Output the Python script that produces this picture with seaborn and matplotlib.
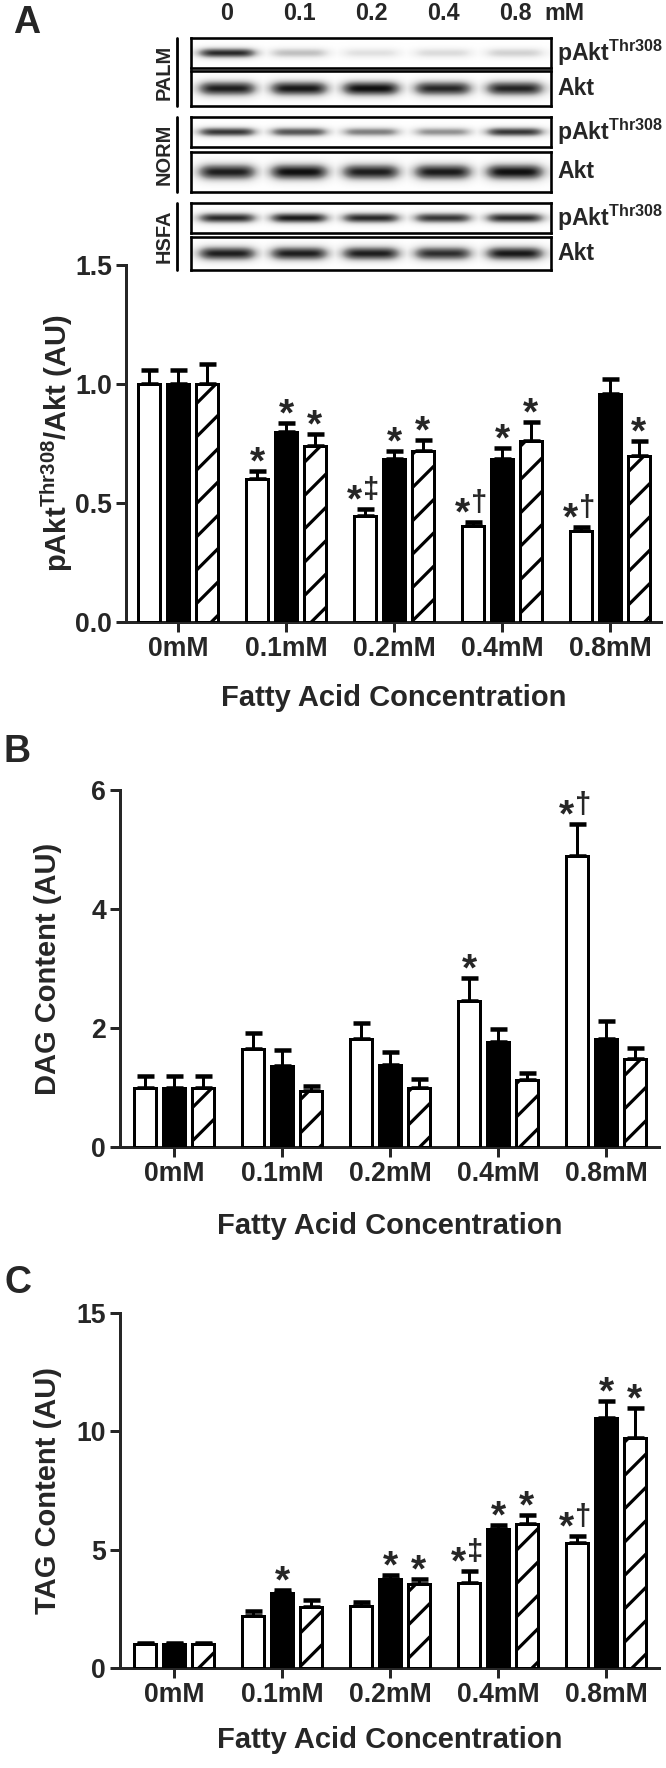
import numpy as np
import pandas as pd
import matplotlib
matplotlib.use("Agg")
import matplotlib.pyplot as plt
import seaborn as sns

# ---------------- data ----------------
concentrations = ["0mM", "0.1mM", "0.2mM", "0.4mM", "0.8mM"]
groups = ["PALM", "NORM", "HSFA"]
lane_labels = ["0", "0.1", "0.2", "0.4", "0.8"]

# Panel A: pAkt Thr308 / Akt
akt_palm = [1.00, 0.60, 0.445, 0.405, 0.382]
akt_norm = [1.00, 0.80, 0.685, 0.686, 0.959]
akt_hsfa = [1.00, 0.74, 0.717, 0.76, 0.699]
akt_palm_sem = [0.06, 0.036, 0.028, 0.015, 0.016]
akt_norm_sem = [0.06, 0.036, 0.032, 0.044, 0.063]
akt_hsfa_sem = [0.085, 0.05, 0.046, 0.08, 0.06]
akt_marks_palm = ["", "*", "*‡", "*†", "*†"]
akt_marks_norm = ["", "*", "*", "*", ""]
akt_marks_hsfa = ["", "*", "*", "*", "*"]

# Panel B: DAG content
dag_palm = [1.0, 1.65, 1.81, 2.45, 4.89]
dag_norm = [1.0, 1.36, 1.38, 1.77, 1.81]
dag_hsfa = [1.0, 0.94, 0.99, 1.13, 1.48]
dag_palm_sem = [0.2, 0.27, 0.27, 0.39, 0.54]
dag_norm_sem = [0.2, 0.27, 0.21, 0.21, 0.30]
dag_hsfa_sem = [0.2, 0.09, 0.15, 0.12, 0.18]
dag_marks_palm = ["", "", "", "*", "*†"]
dag_marks_norm = ["", "", "", "", ""]
dag_marks_hsfa = ["", "", "", "", ""]

# Panel C: TAG content
tag_palm = [1.0, 2.18, 2.63, 3.61, 5.28]
tag_norm = [1.0, 3.15, 3.77, 5.86, 10.55]
tag_hsfa = [1.0, 2.56, 3.53, 6.09, 9.72]
tag_palm_sem = [0.05, 0.22, 0.16, 0.47, 0.31]
tag_norm_sem = [0.05, 0.15, 0.18, 0.18, 0.73]
tag_hsfa_sem = [0.05, 0.31, 0.24, 0.39, 1.28]
tag_marks_palm = ["", "", "", "*‡", "*†"]
tag_marks_norm = ["", "*", "*", "*", "*"]
tag_marks_hsfa = ["", "", "*", "*", "*"]

# Western blot band intensities (0 = none, 1 = darkest), lanes 0..0.8 mM
blot_palm_pakt = [0.92, 0.38, 0.22, 0.25, 0.30]
blot_palm_akt = [0.95, 0.97, 1.00, 0.92, 0.93]
blot_norm_pakt = [0.88, 0.78, 0.62, 0.55, 0.88]
blot_norm_akt = [0.95, 1.00, 0.95, 0.96, 1.00]
blot_hsfa_pakt = [0.92, 0.97, 0.92, 0.88, 0.92]
blot_hsfa_akt = [0.95, 0.95, 0.95, 0.90, 0.97]

# ---------------- style ----------------
sns.set_style("ticks")
DPI = 200


def px(v):
    return v * 72.0 / DPI


plt.rcParams.update({
    "font.family": ["Liberation Sans", "DejaVu Sans"],
    "font.weight": "bold",
    "axes.labelweight": "bold",
    "mathtext.fontset": "custom",
    "mathtext.rm": "Liberation Sans:bold",
    "mathtext.bf": "Liberation Sans:bold",
    "mathtext.it": "Liberation Sans:bold",
    "hatch.linewidth": px(3.2),
    "axes.linewidth": px(3),
})

W, H = 666, 1768
fig = plt.figure(figsize=(W / DPI, H / DPI), dpi=DPI)


def fx(x):
    return x / W


def fy(y):
    return 1 - y / H


LW = px(3)
TICK_FS = 9.6
LABEL_FS = 10.5
STAR_FS = 14
DAG_FS = 10.5


def add_mark(ax, x, ytop, m):
    if len(m) == 1:
        ax.annotate("*", xy=(x, ytop), xytext=(0, -px(2.5)),
                    textcoords="offset points", ha="center", va="baseline",
                    fontsize=STAR_FS, fontweight="bold",
                    annotation_clip=False)
    else:
        ax.annotate("*", xy=(x, ytop), xytext=(-px(3), -px(2.5)),
                    textcoords="offset points", ha="right", va="baseline",
                    fontsize=STAR_FS, fontweight="bold",
                    annotation_clip=False)
        ax.annotate(m[1:], xy=(x, ytop), xytext=(-px(2), px(11)),
                    textcoords="offset points", ha="left", va="baseline",
                    fontsize=DAG_FS, fontweight="bold",
                    annotation_clip=False)


def bar_panel(ax, vals, sems, marks, ymax, yticks, yticklabels, ylabel,
              xlim, ylabel_x, xlabel_y):
    df = pd.DataFrame({
        "conc": concentrations * 3,
        "group": np.repeat(groups, len(concentrations)),
        "value": vals[0] + vals[1] + vals[2],
    })
    sns.barplot(data=df, x="conc", y="value", hue="group", hue_order=groups,
                order=concentrations, palette=["white", "black", "white"],
                edgecolor="black", linewidth=LW, width=0.8, gap=0.25,
                errorbar=None, legend=False, ax=ax, zorder=3)
    bar_conts = list(ax.containers)
    for gi, cont in enumerate(bar_conts):
        bars = list(cont)
        xs = [p.get_x() + p.get_width() / 2 for p in bars]
        ys = [p.get_height() for p in bars]
        if gi == 2:
            for p in bars:
                p.set_hatch("//")
        ax.errorbar(xs, ys, yerr=[[0] * len(ys), sems[gi]], fmt="none",
                    ecolor="black", elinewidth=LW, capsize=px(8.5),
                    capthick=px(4.5), zorder=2)
        for x, y, s, m in zip(xs, ys, sems[gi], marks[gi]):
            if m:
                add_mark(ax, x, y + s, m)
    ax.set_xlim(*xlim)
    ax.set_ylim(0, ymax)
    ax.set_yticks(yticks)
    ax.set_yticklabels(yticklabels)
    sns.despine(ax=ax)
    for sp in ("left", "bottom"):
        ax.spines[sp].set_linewidth(LW)
    ax.tick_params(axis="both", width=LW, length=px(10), labelsize=TICK_FS,
                   pad=px(4), direction="out")
    ax.tick_params(axis="x", pad=px(4))
    ax.set_ylabel(ylabel, fontsize=LABEL_FS, fontweight="bold")
    ax.set_xlabel("Fatty Acid Concentration", fontsize=LABEL_FS,
                  fontweight="bold")
    ax.yaxis.set_label_coords(ylabel_x, 0.5)
    ax.xaxis.set_label_coords(0.5, xlabel_y)
    ax.xaxis.label.set_va("center")
    ax.yaxis.label.set_va("center")
    for t in ax.get_xticklabels() + ax.get_yticklabels():
        t.set_fontweight("bold")


# ---------------- panel A bars ----------------
axA = fig.add_axes([fx(126), fy(622), (661 - 126) / W, (622 - 265) / H])
bar_panel(axA, [akt_palm, akt_norm, akt_hsfa],
          [akt_palm_sem, akt_norm_sem, akt_hsfa_sem],
          [akt_marks_palm, akt_marks_norm, akt_marks_hsfa],
          1.5, [0, 0.5, 1.0, 1.5], ["0.0", "0.5", "1.0", "1.5"],
          r"pAkt$^{\rm Thr308}$/Akt (AU)",
          ((126 - 178) / 108, (661 - 178) / 108),
          (57 - 126) / 535, -(698 - 622) / 357)

# ---------------- panel B ----------------
axB = fig.add_axes([fx(120), fy(1147), (659 - 120) / W, (1147 - 790) / H])
bar_panel(axB, [dag_palm, dag_norm, dag_hsfa],
          [dag_palm_sem, dag_norm_sem, dag_hsfa_sem],
          [dag_marks_palm, dag_marks_norm, dag_marks_hsfa],
          6, [0, 2, 4, 6], ["0", "2", "4", "6"],
          "DAG Content (AU)",
          ((120 - 174) / 108, (659 - 174) / 108),
          (48 - 120) / 539, -(1226 - 1147) / 357)

# ---------------- panel C ----------------
axC = fig.add_axes([fx(120), fy(1668), (659 - 120) / W, (1668 - 1313) / H])
bar_panel(axC, [tag_palm, tag_norm, tag_hsfa],
          [tag_palm_sem, tag_norm_sem, tag_hsfa_sem],
          [tag_marks_palm, tag_marks_norm, tag_marks_hsfa],
          15, [0, 5, 10, 15], ["0", "5", "10", "15"],
          "TAG Content (AU)",
          ((120 - 174) / 108, (659 - 174) / 108),
          (48 - 120) / 539, -(1740 - 1668) / 355)

# ---------------- western blots ----------------
BL, BR = 191, 551
rows = [
    (blot_palm_pakt, 38, 68, 0.34, r"pAkt$^{\rm Thr308}$"),
    (blot_palm_akt, 71, 106, 0.44, "Akt"),
    (blot_norm_pakt, 117, 147, 0.32, r"pAkt$^{\rm Thr308}$"),
    (blot_norm_akt, 152, 192, 0.42, "Akt"),
    (blot_hsfa_pakt, 203, 233, 0.36, r"pAkt$^{\rm Thr308}$"),
    (blot_hsfa_akt, 237, 270, 0.44, "Akt"),
]
ny, nx = 80, 600
yy = np.linspace(-1, 1, ny)[:, None]
xx = np.linspace(0, 5, nx)[None, :]
for intens, top, bot, thick, lab in rows:
    bax = fig.add_axes([fx(BL), fy(bot), (BR - BL) / W, (bot - top) / H])
    img = np.zeros((ny, nx))
    for i, v in enumerate(intens):
        hx = 1.0 / (1.0 + ((xx - (i + 0.5)) / 0.39) ** 6)
        vy = np.exp(-((yy + 0.03 * (xx - i - 0.5) ** 2) / thick) ** 2)
        img = np.maximum(img, v * hx * vy)
    bax.imshow(img, cmap="Greys", vmin=0, vmax=1.05, aspect="auto",
               extent=[0, 5, -1, 1], interpolation="bicubic")
    bax.set_xticks([])
    bax.set_yticks([])
    for sp in bax.spines.values():
        sp.set_visible(True)
        sp.set_linewidth(px(2.6))
        sp.set_color("black")
    fig.text(fx(557), fy((top + bot) / 2), lab, ha="left", va="center",
             fontsize=8.3, fontweight="bold")

# group labels with vertical lines
for name, top, bot in [("PALM", 38, 106), ("NORM", 117, 192), ("HSFA", 203, 270)]:
    fig.add_artist(plt.Line2D([fx(177), fx(177)], [fy(top), fy(bot)],
                              color="black", lw=px(2.8)))
    fig.text(fx(164), fy((top + bot) / 2), name, rotation=90, ha="center",
             va="center", fontsize=7.2, fontweight="bold")

# lane labels
for i, lab in enumerate(lane_labels):
    fig.text(fx(BL + 36 + 72 * i), fy(14), lab, ha="center", va="center",
             fontsize=8.4, fontweight="bold")
fig.text(fx(544), fy(14), "mM", ha="left", va="center", fontsize=8.4,
         fontweight="bold")

# panel letters
fig.text(fx(13), fy(23), "A", ha="left", va="center", fontsize=13.5, fontweight="bold")
fig.text(fx(4), fy(752), "B", ha="left", va="center", fontsize=13.5, fontweight="bold")
fig.text(fx(4), fy(1283), "C", ha="left", va="center", fontsize=13.5, fontweight="bold")

fig.savefig("out.png", dpi=DPI, facecolor="white")
